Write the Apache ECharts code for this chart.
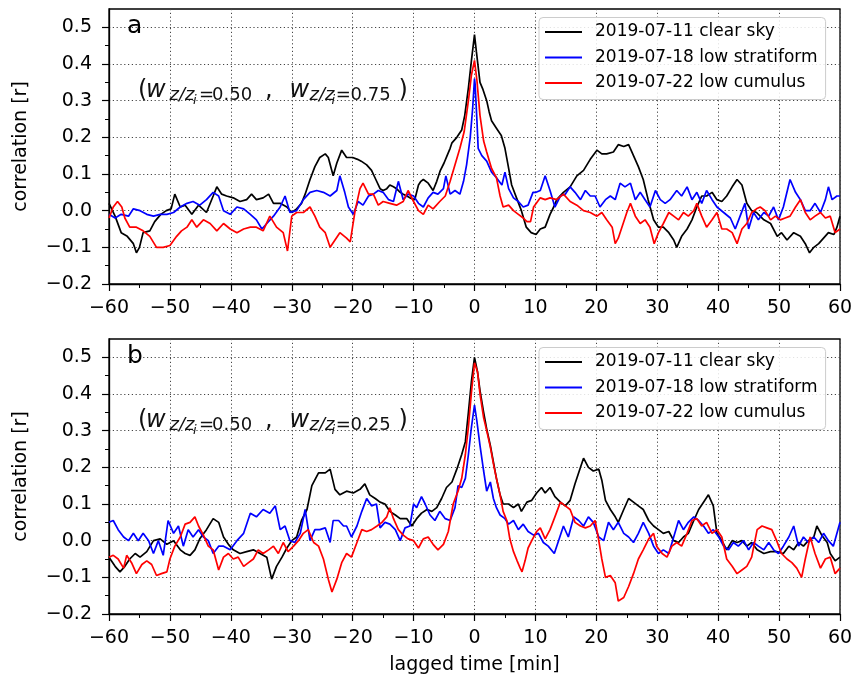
<!DOCTYPE html>
<html><head><meta charset="utf-8">
<script src="https://cdn.jsdelivr.net/npm/echarts@6/dist/echarts.min.js"></script>
<style>html,body{margin:0;padding:0;background:#fff}#chart{width:860px;height:681px}</style>
</head><body><div id="chart"></div>
<script>
// ---------------- data ----------------
const seriesNames = ['2019-07-11 clear sky', '2019-07-18 low stratiform', '2019-07-22 low cumulus'];
const xTickValues = [-60, -50, -40, -30, -20, -10, 0, 10, 20, 30, 40, 50, 60];
const yTickValues = [-0.2, -0.1, 0.0, 0.1, 0.2, 0.3, 0.4, 0.5];
const panelLetters = ['a', 'b'];
const panelWeights = [['0.50', '0.75'], ['0.50', '0.25']];
const xAxisTitle = 'lagged time [min]';
const yAxisTitle = 'correlation [r]';

// panel a
const aClear = [[-60,0.02],[-59,-0.015],[-58,-0.06],[-57,-0.07],[-56,-0.09],[-55.5,-0.115],[-55,-0.1],[-54.4,-0.06],[-53.3,-0.055],[-52.5,-0.03],[-51.5,-0.01],[-50.6,0.0],[-49.8,0.005],[-49.2,0.045],[-48.3,0.01],[-47.5,0.015],[-46.4,-0.01],[-45.3,0.015],[-44,-0.005],[-42.9,0.04],[-42.3,0.065],[-41.5,0.045],[-40.7,0.04],[-39.6,0.035],[-38.5,0.025],[-37.4,0.03],[-36.6,0.045],[-35.8,0.03],[-34.7,0.035],[-33.8,0.045],[-33,0.02],[-31.9,0.02],[-30.8,0.01],[-30,-0.005],[-29.2,0.005],[-28.4,0.02],[-27.8,0.045],[-27,0.085],[-26.2,0.12],[-25.4,0.145],[-24.5,0.155],[-24,0.145],[-23.2,0.095],[-22.6,0.13],[-21.8,0.165],[-21,0.145],[-20,0.145],[-19.2,0.14],[-18.6,0.135],[-17.7,0.125],[-16.9,0.11],[-16.2,0.085],[-15.5,0.06],[-15,0.055],[-14.4,0.06],[-13.9,0.07],[-13.3,0.065],[-12.8,0.06],[-12.2,0.05],[-11.7,0.045],[-11.1,0.04],[-10.6,0.035],[-9.8,0.03],[-9.2,0.07],[-8.8,0.08],[-8.4,0.085],[-7.6,0.075],[-6.8,0.055],[-6.2,0.08],[-5.6,0.11],[-5,0.13],[-4.5,0.15],[-4,0.17],[-3.7,0.185],[-2.9,0.2],[-2.1,0.22],[-1.6,0.26],[-1,0.335],[-0.5,0.41],[0,0.48],[0.3,0.435],[0.9,0.35],[1.4,0.33],[2,0.3],[2.4,0.27],[2.8,0.245],[3.6,0.225],[4.4,0.205],[5,0.17],[5.5,0.125],[6.1,0.07],[6.9,0.035],[7.7,0.0],[8.5,-0.045],[9.3,-0.06],[10.1,-0.065],[10.8,-0.05],[11.6,-0.045],[12.4,-0.01],[13,0.01],[13.5,0.03],[14.6,0.05],[15.7,0.065],[16.8,0.095],[17.9,0.11],[19,0.14],[20.1,0.165],[20.9,0.155],[21.7,0.155],[22.8,0.16],[23.6,0.18],[24.5,0.175],[25.3,0.18],[26.1,0.15],[26.9,0.12],[27.7,0.085],[28.5,0.03],[29.4,-0.025],[30.2,-0.045],[31,-0.045],[31.9,-0.06],[32.7,-0.08],[33.2,-0.1],[34,-0.07],[34.9,-0.05],[35.7,-0.025],[36.5,0.01],[37.3,0.04],[38.1,0.04],[39,0.05],[39.8,0.03],[40.6,0.025],[41.4,0.04],[42.3,0.065],[43.1,0.085],[43.9,0.07],[44.7,0.02],[45.5,0.0],[46.3,-0.005],[47.5,-0.025],[48.6,-0.035],[49.7,-0.07],[50.4,-0.06],[51.3,-0.08],[52.4,-0.06],[53.5,-0.07],[54.3,-0.09],[55,-0.115],[55.7,-0.1],[56.5,-0.09],[57.3,-0.075],[58.1,-0.06],[59,-0.065],[59.5,-0.045],[60,-0.015]];
const aStratiform = [[-60,-0.01],[-59,-0.02],[-58,-0.01],[-56.8,-0.015],[-56,0.005],[-54.9,0.0],[-53.8,-0.01],[-52.7,-0.015],[-51.6,-0.01],[-50.5,-0.01],[-49.4,-0.005],[-48.3,0.01],[-47.2,0.02],[-46.2,0.025],[-45.1,0.015],[-44,0.03],[-42.9,0.05],[-42,0.04],[-41.2,0.0],[-40.1,-0.01],[-39,0.01],[-37.9,0.005],[-36.8,-0.01],[-35.8,-0.025],[-34.9,-0.05],[-34.1,-0.035],[-33,-0.015],[-31.9,0.01],[-31.1,0.04],[-30.3,-0.005],[-29.2,0.0],[-28.1,0.03],[-27,0.05],[-25.9,0.055],[-24.8,0.05],[-23.7,0.04],[-22.6,0.055],[-22.1,0.095],[-21.3,0.05],[-20.7,0.01],[-19.9,-0.01],[-19.1,0.025],[-18.3,0.015],[-17.4,0.04],[-16.6,0.045],[-15.8,0.055],[-15,0.05],[-14.1,0.03],[-13.3,0.025],[-12.5,0.08],[-11.7,0.03],[-10.9,0.045],[-10,0.04],[-9.2,0.02],[-8.4,0.01],[-7.6,0.035],[-6.8,0.05],[-6,0.045],[-5.1,0.06],[-4.7,0.095],[-4,0.045],[-3.2,0.055],[-2.4,0.045],[-1.8,0.08],[-1.3,0.125],[-0.7,0.2],[-0.3,0.28],[0,0.36],[0.1,0.345],[0.4,0.245],[0.6,0.17],[1.2,0.15],[2,0.135],[2.8,0.105],[3.6,0.09],[4.5,0.07],[5,0.105],[5.6,0.06],[6.4,0.035],[7.2,0.025],[8,0.01],[8.8,0.015],[9.6,0.05],[10.1,0.05],[10.8,0.055],[11.6,0.095],[12.4,0.055],[13.2,0.01],[14.1,0.04],[14.9,0.045],[15.7,0.065],[16.5,0.05],[17.4,0.03],[18.2,0.055],[19,0.04],[19.8,0.04],[20.6,0.01],[21.5,0.03],[22.3,0.04],[23.1,0.03],[23.9,0.075],[24.7,0.065],[25.6,0.075],[26.4,0.03],[27.2,0.05],[28,0.03],[28.8,0.01],[29.7,0.055],[30.5,0.03],[31.3,0.02],[32.1,0.03],[33.2,0.055],[34,0.04],[34.9,0.065],[35.7,0.03],[36.5,0.05],[37.3,0.02],[38.1,0.055],[39,0.03],[39.8,0.01],[40.9,-0.005],[42,-0.02],[42.8,-0.05],[43.6,-0.015],[44.4,0.02],[45,-0.05],[45.8,-0.005],[46.6,-0.025],[47.5,-0.005],[48.3,-0.015],[49.1,0.01],[49.9,-0.025],[50.7,0.01],[51.8,0.085],[52.7,0.05],[53.5,0.03],[54.3,0.0],[55.1,0.0],[55.9,0.02],[56.8,-0.005],[57.6,0.03],[58.1,0.065],[58.7,0.03],[59.5,0.04],[60,0.04]];
const aCumulus = [[-60,-0.02],[-59.3,0.01],[-58.6,0.025],[-57.9,0.01],[-57.4,-0.02],[-56.6,-0.045],[-55.5,-0.045],[-54.4,-0.055],[-53.3,-0.07],[-52.2,-0.1],[-51.1,-0.1],[-50,-0.095],[-48.9,-0.07],[-48.1,-0.055],[-47.2,-0.045],[-46.4,-0.025],[-45.6,-0.045],[-44.5,-0.025],[-43.4,-0.035],[-42.3,-0.055],[-41.2,-0.035],[-40.1,-0.05],[-39,-0.06],[-37.9,-0.05],[-36.8,-0.045],[-35.8,-0.045],[-34.7,-0.055],[-33.6,-0.015],[-32.5,-0.045],[-31.4,-0.06],[-30.7,-0.11],[-30,-0.015],[-29.2,-0.005],[-28.1,-0.005],[-27,0.01],[-26.2,-0.015],[-25.4,-0.045],[-24.5,-0.06],[-23.7,-0.1],[-22.9,-0.08],[-22.1,-0.06],[-21,-0.075],[-20.4,-0.085],[-19.6,0.0],[-18.8,0.06],[-18.3,0.075],[-17.4,0.045],[-16.6,0.045],[-15.8,0.015],[-15,0.025],[-13.9,0.02],[-12.8,0.015],[-11.7,0.025],[-10.9,0.055],[-10,0.025],[-9.2,0.0],[-8.4,-0.01],[-7.6,0.015],[-6.8,0.005],[-5.7,0.025],[-4.8,0.04],[-4,0.08],[-3.2,0.125],[-2.4,0.17],[-1.7,0.215],[-1,0.3],[-0.5,0.37],[0,0.41],[0.4,0.355],[0.9,0.26],[1.5,0.19],[2,0.16],[2.8,0.115],[3.6,0.09],[4.2,0.04],[4.7,0.01],[5.6,0.015],[6.4,0.0],[7.2,-0.01],[8,-0.02],[8.6,-0.03],[9.2,-0.03],[9.7,0.01],[10.8,0.035],[11.6,0.03],[12.4,0.035],[13.5,0.03],[14.6,0.045],[15.7,0.025],[16.8,0.015],[17.9,0.0],[19,-0.005],[20.1,-0.015],[20.9,-0.005],[21.7,-0.025],[22.6,-0.045],[23.1,-0.09],[23.6,-0.075],[24.2,-0.045],[25,-0.005],[25.6,0.02],[26.4,-0.015],[27.2,-0.035],[28,-0.025],[28.8,-0.045],[29.5,-0.09],[30.2,-0.06],[31,-0.035],[31.9,-0.005],[32.7,-0.015],[33.5,-0.025],[34.3,-0.005],[35.1,-0.015],[36,0.0],[36.5,0.02],[37.3,-0.015],[38.1,-0.045],[39,-0.025],[39.8,-0.005],[40.6,-0.05],[41.4,-0.05],[42.3,-0.06],[43.1,-0.09],[43.9,-0.05],[44.7,-0.035],[45.5,-0.005],[46.3,0.005],[46.9,0.01],[47.7,0.0],[48.6,-0.025],[49.4,-0.015],[50.2,-0.025],[51,-0.02],[51.8,-0.015],[52.7,0.01],[53.5,0.03],[54.3,-0.005],[55.1,-0.025],[55.9,-0.015],[56.8,-0.005],[57.6,-0.02],[58.4,-0.015],[59.2,-0.06],[60,-0.05]];

// panel b
const bClear = [[-60,-0.045],[-59,-0.07],[-58.2,-0.085],[-57.4,-0.07],[-56.6,-0.05],[-55.7,-0.035],[-54.9,-0.045],[-53.8,-0.03],[-52.7,0.0],[-51.6,0.005],[-50.5,-0.01],[-49.4,0.0],[-48.3,-0.025],[-47.5,-0.035],[-46.7,-0.04],[-45.9,-0.025],[-45.1,0.005],[-44,0.03],[-42.9,0.06],[-42,0.05],[-41.2,0.01],[-40.4,-0.01],[-39.6,-0.025],[-38.5,-0.035],[-37.4,-0.03],[-36.3,-0.025],[-35.2,-0.035],[-34.1,-0.045],[-33.3,-0.105],[-32.5,-0.07],[-31.6,-0.045],[-30.8,-0.02],[-30,0.0],[-29.2,0.01],[-28.4,0.055],[-27.5,0.085],[-26.7,0.15],[-25.6,0.185],[-24.5,0.185],[-23.7,0.195],[-22.9,0.14],[-22.1,0.125],[-21,0.135],[-19.9,0.13],[-18.8,0.14],[-18,0.155],[-17.2,0.125],[-16.3,0.115],[-15.5,0.105],[-14.7,0.1],[-13.9,0.08],[-13,0.07],[-12.2,0.06],[-11.1,0.06],[-10.3,0.04],[-9.5,0.06],[-8.7,0.075],[-7.8,0.085],[-7,0.08],[-6.2,0.09],[-5.4,0.115],[-4.6,0.145],[-3.7,0.16],[-2.9,0.195],[-2.1,0.235],[-1.5,0.27],[-1,0.35],[-0.5,0.435],[0,0.5],[0.5,0.46],[0.9,0.41],[1.5,0.35],[2,0.305],[2.6,0.26],[3.1,0.215],[3.6,0.17],[4.2,0.125],[4.7,0.1],[5.6,0.1],[6.4,0.09],[7.2,0.1],[7.7,0.08],[8.6,0.105],[9.4,0.11],[10.2,0.13],[11,0.145],[11.6,0.13],[12.4,0.145],[13.2,0.12],[14.1,0.105],[14.9,0.095],[15.7,0.11],[16.5,0.155],[17.4,0.2],[17.9,0.225],[18.7,0.2],[19.5,0.19],[20.4,0.195],[20.9,0.165],[21.5,0.11],[22.3,0.085],[23.1,0.065],[23.6,0.05],[24.5,0.085],[25.3,0.115],[26.1,0.105],[26.9,0.095],[27.7,0.085],[28.6,0.055],[29.4,0.04],[30.2,0.03],[31,0.02],[31.9,0.025],[32.7,0.0],[33.5,-0.005],[34.3,0.01],[35.1,0.02],[36,0.055],[36.8,0.085],[37.6,0.105],[38.4,0.125],[39.2,0.095],[39.8,0.02],[40.6,0.0],[41.4,-0.025],[42.3,0.0],[43.1,-0.005],[43.9,0.0],[44.7,-0.015],[45.5,-0.005],[46.4,-0.025],[47.5,-0.035],[48.6,-0.03],[49.6,-0.03],[50.7,-0.035],[51.6,-0.015],[52.4,-0.025],[53.2,-0.005],[54,-0.015],[54.8,0.0],[55.7,0.01],[56.2,0.04],[57,0.015],[57.9,-0.005],[58.4,-0.035],[59.2,-0.055],[60,-0.045]];
const bStratiform = [[-60,0.05],[-59.3,0.055],[-58.5,0.03],[-57.6,0.01],[-56.8,0.0],[-56,0.02],[-55.2,0.0],[-54.4,0.02],[-53.5,0.0],[-52.7,-0.035],[-51.9,0.0],[-51.1,-0.04],[-50.3,0.055],[-49.4,0.02],[-48.6,0.04],[-47.8,-0.015],[-47,0.03],[-46.2,0.01],[-45.3,0.03],[-44.5,0.01],[-43.7,0.0],[-42.9,-0.035],[-42,-0.015],[-41.2,-0.015],[-40.1,-0.025],[-39,0.0],[-37.9,0.02],[-36.8,0.075],[-35.8,0.065],[-34.7,0.085],[-33.6,0.075],[-32.7,0.095],[-31.9,0.03],[-31.1,0.04],[-30.3,0.0],[-29.5,-0.005],[-28.6,0.02],[-27.8,0.085],[-27,0.0],[-26.2,0.03],[-25.4,0.03],[-24.5,0.035],[-23.7,-0.005],[-23.2,0.055],[-22.3,0.055],[-21.5,0.04],[-21,0.04],[-20.2,0.01],[-19.3,0.04],[-18.5,0.08],[-17.7,0.115],[-16.9,0.095],[-16.1,0.1],[-15.5,0.035],[-14.7,0.05],[-13.9,0.045],[-13,0.03],[-12.2,0.0],[-11.4,0.035],[-10.6,0.04],[-10,0.1],[-9.5,0.09],[-8.7,0.12],[-8.1,0.1],[-7.3,0.07],[-6.5,0.055],[-5.7,0.08],[-4.8,0.06],[-4,0.055],[-3.2,0.09],[-2.7,0.15],[-2.1,0.145],[-1.5,0.17],[-1,0.235],[-0.5,0.31],[0,0.37],[0.4,0.325],[0.9,0.26],[1.5,0.19],[2,0.135],[2.6,0.16],[3.1,0.115],[3.6,0.09],[4.2,0.07],[5,0.06],[5.6,0.045],[6.4,0.055],[7.2,0.03],[8,0.045],[8.8,0.025],[9.7,0.015],[10.5,0.02],[11.3,-0.005],[12.1,-0.015],[13.1,-0.035],[13.8,0.0],[14.6,0.04],[15.4,0.01],[16.3,0.065],[17.1,0.055],[17.9,0.04],[18.7,0.065],[19.5,0.05],[20.4,0.01],[21.2,0.0],[22,0.05],[22.8,0.03],[23.6,0.05],[24.5,0.02],[25.3,0.01],[26.1,-0.005],[26.9,0.02],[27.7,0.05],[28.6,0.02],[29.4,-0.015],[30.2,-0.035],[31,-0.025],[31.9,-0.035],[32.7,0.01],[33.5,0.055],[34.3,0.03],[35.1,0.05],[36,0.065],[36.8,0.055],[37.6,0.04],[38.4,0.02],[39.2,0.03],[40.1,0.01],[40.9,-0.015],[41.7,-0.025],[42.5,-0.005],[43.3,-0.015],[44.2,0.0],[45,-0.025],[45.8,-0.005],[46.6,-0.015],[47.5,-0.025],[48.3,-0.005],[49.1,-0.025],[49.9,-0.035],[50.7,-0.015],[51.6,0.01],[52.4,0.04],[53.2,-0.015],[54,0.01],[54.8,-0.005],[55.7,0.01],[56.5,-0.005],[57.3,0.02],[58.1,0.0],[58.9,-0.015],[60,0.05]];
const bCumulus = [[-60,-0.045],[-59.3,-0.04],[-58.5,-0.05],[-57.6,-0.075],[-57.1,-0.04],[-56.3,-0.06],[-55.5,-0.09],[-54.6,-0.065],[-53.8,-0.055],[-53,-0.065],[-52.2,-0.095],[-51.4,-0.09],[-50.5,-0.085],[-50,-0.05],[-49.2,-0.015],[-48.3,0.01],[-47.5,0.045],[-46.7,0.05],[-45.9,0.065],[-45.3,0.04],[-44.5,0.015],[-43.7,-0.015],[-42.9,-0.025],[-42,-0.08],[-41.2,-0.045],[-40.4,-0.035],[-39.6,-0.05],[-38.8,-0.045],[-37.9,-0.07],[-37.1,-0.06],[-36.3,-0.05],[-35.5,-0.025],[-34.7,-0.035],[-33.8,-0.025],[-33,-0.015],[-32.2,-0.035],[-31.4,-0.005],[-30.6,-0.03],[-29.7,-0.015],[-28.9,0.0],[-28.1,0.02],[-27.3,0.03],[-26.4,-0.005],[-25.6,-0.015],[-24.8,-0.05],[-24,-0.105],[-23.4,-0.14],[-22.6,-0.105],[-21.8,-0.06],[-21,-0.035],[-20.2,-0.045],[-19.3,-0.005],[-18.5,0.03],[-17.7,0.025],[-16.9,0.03],[-16,0.04],[-15.2,0.05],[-14.4,0.065],[-13.9,0.09],[-13.3,0.06],[-12.5,0.03],[-11.7,0.015],[-10.9,0.005],[-10,0.0],[-9.2,-0.02],[-8.4,0.005],[-7.6,0.01],[-6.8,-0.01],[-6,-0.025],[-5.1,-0.01],[-4.3,0.025],[-3.5,0.1],[-2.7,0.135],[-2.1,0.17],[-1.5,0.235],[-1,0.31],[-0.5,0.405],[0,0.485],[0.5,0.46],[0.9,0.4],[1.5,0.335],[2,0.3],[2.6,0.255],[3.1,0.21],[3.6,0.17],[4.2,0.125],[4.7,0.08],[5.3,0.055],[5.8,0.005],[6.4,-0.03],[7,-0.055],[7.5,-0.075],[7.8,-0.085],[8.3,-0.055],[8.8,-0.02],[9.4,0.0],[10.2,0.025],[10.8,0.035],[11.6,0.005],[12.4,0.03],[13.2,0.065],[14.1,0.105],[14.9,0.095],[15.7,0.085],[16.5,0.05],[17.4,0.04],[18.2,0.035],[19,0.04],[19.8,0.055],[20.4,0.0],[20.9,-0.05],[21.5,-0.1],[22.3,-0.095],[23.1,-0.115],[23.6,-0.165],[24.5,-0.155],[25.3,-0.125],[26.1,-0.09],[26.9,-0.05],[27.7,-0.025],[28.6,0.005],[29.4,0.02],[29.9,-0.015],[30.8,-0.035],[31.6,-0.045],[32.4,-0.015],[33.2,-0.005],[34,-0.015],[34.9,0.02],[35.7,0.055],[36.5,0.06],[37.3,0.04],[38.1,0.05],[39,0.02],[39.8,0.03],[40.6,0.01],[41.4,-0.05],[42.3,-0.07],[43.1,-0.09],[43.9,-0.08],[44.7,-0.07],[45.5,-0.045],[46.4,0.03],[47.2,0.04],[48,0.035],[48.8,0.03],[49.6,0.0],[50.4,-0.035],[51.3,-0.05],[52.1,-0.06],[52.9,-0.075],[53.7,-0.1],[54.3,-0.05],[55.1,0.01],[55.9,-0.035],[56.8,-0.075],[57.6,-0.05],[58.4,-0.045],[59.2,-0.09],[60,-0.075]];

// ---------------- layout / style ----------------
const FONT = '"DejaVu Sans", "Liberation Sans", sans-serif';
const COLORS = ['#000000', '#0000ff', '#ff0000'];
const panels = [
  { top: 9, data: [aClear, aStratiform, aCumulus] },
  { top: 339, data: [bClear, bStratiform, bCumulus] }
];
const GRID_LEFT = 109, GRID_W = 731, GRID_H = 275;
const minus = s => String(s).replace('-', '\u2212');

const grids = [], xAxes = [], yAxes = [], series = [], legends = [], graphics = [];
panels.forEach((p, i) => {
  grids.push({ left: GRID_LEFT, top: p.top, width: GRID_W, height: GRID_H, show: true,
    borderColor: '#000', borderWidth: 1.3, backgroundColor: 'transparent' });
  xAxes.push({
    type: 'value', gridIndex: i, min: -60, max: 60, interval: 10,
    name: i === 1 ? xAxisTitle : '', nameLocation: 'middle', nameGap: 42,
    nameTextStyle: { fontFamily: FONT, fontSize: 19, color: '#000' },
    axisLine: { show: true, onZero: false, lineStyle: { color: '#000', width: 1.3 } },
    axisTick: { show: true, length: 7, lineStyle: { color: '#000', width: 1.2 } },
    minorTick: { show: true, splitNumber: 2, length: 4, lineStyle: { color: '#000', width: 1 } },
    axisLabel: { fontFamily: FONT, fontSize: 19, color: '#000', margin: 15, formatter: v => minus(v) },
    splitLine: { show: true, lineStyle: { color: '#444', width: 1, type: [1.2, 2.6] } },
    minorSplitLine: { show: false }
  });
  yAxes.push({
    type: 'value', gridIndex: i, min: -0.2, max: 0.55, interval: 0.1,
    name: yAxisTitle, nameLocation: 'middle', nameGap: 78, nameRotate: 90,
    nameTextStyle: { fontFamily: FONT, fontSize: 19, color: '#000' },
    axisLine: { show: true, onZero: false, lineStyle: { color: '#000', width: 1.3 } },
    axisTick: { show: true, length: 7, customValues: yTickValues, lineStyle: { color: '#000', width: 1.2 } },
    minorTick: { show: true, splitNumber: 2, length: 4, lineStyle: { color: '#000', width: 1 } },
    axisLabel: { fontFamily: FONT, fontSize: 19, color: '#000', margin: 17, customValues: yTickValues,
      formatter: v => (v > 0.5001 ? '' : minus(Number(v).toFixed(1))) },
    splitLine: { show: true, lineStyle: { color: '#444', width: 1, type: [1.2, 2.6] } }
  });
  p.data.forEach((d, k) => {
    series.push({
      type: 'line', name: seriesNames[k], xAxisIndex: i, yAxisIndex: i, data: d,
      symbol: 'none', smooth: false, clip: true,
      lineStyle: { color: COLORS[k], width: 1.7 }, itemStyle: { color: COLORS[k] },
      emphasis: { disabled: true }, z: 3 + k
    });
  });
  legends.push({
    orient: 'vertical', left: 539, top: p.top + 8.5,
    data: seriesNames, icon: 'rect', itemWidth: 37, itemHeight: 2, itemGap: 8.5,
    padding: [6, 8, 8, 6],
    backgroundColor: 'rgba(255,255,255,0.85)', borderColor: '#cccccc', borderWidth: 1, borderRadius: 4,
    textStyle: { fontFamily: FONT, fontSize: 17, color: '#000', padding: [0, 0, 0, 8] },
    selectedMode: false
  });
  // panel letter
  const dy = p.top - 9;
  graphics.push({ type: 'text', z: 100, style: { text: panelLetters[i], x: 127, y: 35.5 + dy - 0.35 * 25,
    font: '25px ' + FONT, fill: '#000', align: 'left', verticalAlign: 'middle',
    textAlign: 'left', textVerticalAlign: 'middle' } });
  // weight annotation (mathtext-like pieces)
  const B = 99 + dy, S = 102 + dy, SS = 105.5 + dy;
  const w = panelWeights[i];
  const pieces = [
    ['(', 138, B, 24, false], ['w', 146, B, 24, true], ['z/z', 169.5, S, 18, true], ['i', 193, SS, 13, true],
    ['=', 199, S, 18, false], [w[0], 212, S, 18, false], [',', 265, B, 24, false],
    ['w', 289.5, B, 24, true], ['z/z', 309.5, S, 18, true], ['i', 331.5, SS, 13, true],
    ['=', 335.8, S, 18, false], [w[1], 350.5, S, 18, false], [')', 398.5, B, 24, false]
  ];
  pieces.forEach(([t, x, base, fs, it]) => {
    graphics.push({ type: 'text', z: 100, style: { text: t, x: x, y: base - 0.35 * fs,
      font: (it ? 'italic ' : '') + fs + 'px ' + FONT, fill: '#111', align: 'left', verticalAlign: 'middle',
      textAlign: 'left', textVerticalAlign: 'middle' } });
  });
});

const chart = echarts.init(document.getElementById('chart'), null, { renderer: 'canvas' });
chart.setOption({
  animation: false,
  backgroundColor: '#ffffff',
  grid: grids, xAxis: xAxes, yAxis: yAxes, series: series, legend: legends,
  graphic: { elements: graphics }
});
</script></body></html>
